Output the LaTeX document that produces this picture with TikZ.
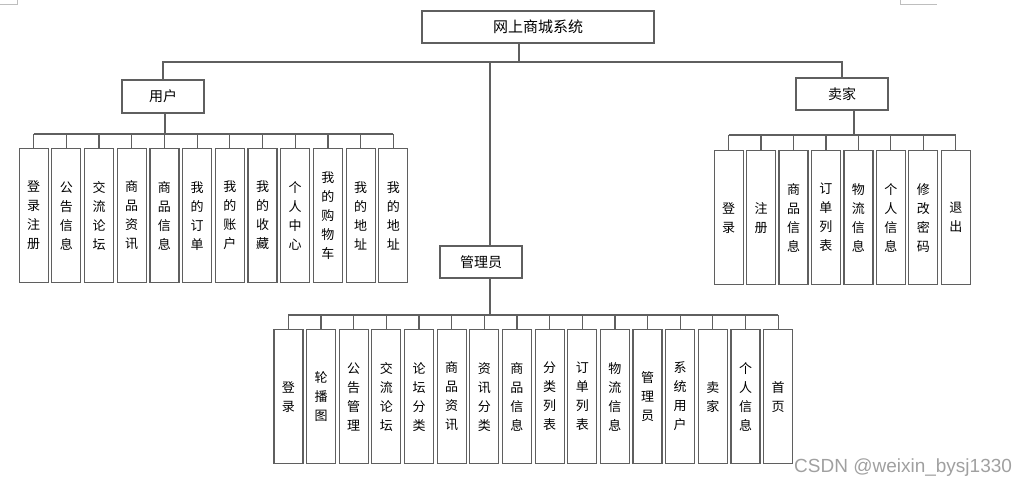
\documentclass[tikz,border=0pt]{standalone}
\usepackage{fontspec}
\newfontfamily\cjk{Noto Sans CJK SC}
\newfontfamily\wmfont{Liberation Sans}
\definecolor{linec}{RGB}{95,95,95}
\definecolor{markc}{RGB}{190,190,190}
\definecolor{wmc}{RGB}{160,160,160}
\begin{document}
\begin{tikzpicture}[x=1pt,y=-1pt,
  ln/.style={draw=linec, line width=1.2pt},
  box/.style={draw=linec, line width=1.2pt, fill=white, inner sep=0pt, font=\cjk\fontsize{14}{16}\selectfont},
  vbox/.style={box, anchor=north west, minimum width=29pt, minimum height=134pt, align=center, font=\cjk\fontsize{13}{19}\selectfont}]
\useasboundingbox (0,0) rectangle (1027,488);
% page corner marks
\draw[markc, line width=0.8pt] (0,4) -- (17,4) -- (17,0);
\draw[markc, line width=0.8pt] (900,0) -- (900,4) -- (937,4);
% top levels
\node[box, minimum width=232pt, minimum height=32pt, font=\cjk\fontsize{15}{17}\selectfont] (root) at (538,27) {网上商城系统};
\node[box, minimum width=82pt, minimum height=33pt] (user) at (163,96.5) {用户};
\node[box, minimum width=92pt, minimum height=32pt] (seller) at (842,94) {卖家};
\node[box, minimum width=82pt, minimum height=32pt] (admin) at (481,262) {管理员};
\coordinate (j0) at (519,62);
\coordinate (ja) at (490,62);
\draw[ln] (root.south -| j0) -- (j0);
\draw[ln] (user.north) |- (j0) -| (seller.north);
\draw[ln] (ja) -- (ja |- admin.north);
% user group
\coordinate (ubus) at (165,134);
\draw[ln] (ubus |- user.south) -- (ubus);
\foreach \t [count=\i from 0] in {{登\\录\\注\\册},{公\\告\\信\\息},{交\\流\\论\\坛},{商\\品\\资\\讯},{商\\品\\信\\息},{我\\的\\订\\单},{我\\的\\账\\户},{我\\的\\收\\藏},{个\\人\\中\\心},{我\\的\\购\\物\\车},{我\\的\\地\\址},{我\\的\\地\\址}} {
  \node[vbox] (u\i) at ({18.5+32.7*\i},148) {\t};
  \draw[ln] (u\i.north) -- (u\i.north |- ubus);
}
\draw[ln] (u0.north |- ubus) -- (u11.north |- ubus);
% seller group
\coordinate (sbus) at (854,135);
\draw[ln] (sbus |- seller.south) -- (sbus);
\foreach \t [count=\i from 0] in {{登\\录},{注\\册},{商\\品\\信\\息},{订\\单\\列\\表},{物\\流\\信\\息},{个\\人\\信\\息},{修\\改\\密\\码},{退\\出}} {
  \node[vbox] (s\i) at ({713.5+32.45*\i},150) {\t};
  \draw[ln] (s\i.north) -- (s\i.north |- sbus);
}
\draw[ln] (s0.north |- sbus) -- (s7.north |- sbus);
% admin group
\coordinate (abus) at (490,315);
\draw[ln] (abus |- admin.south) -- (abus);
\foreach \t [count=\i from 0] in {{登\\录},{轮\\播\\图},{公\\告\\管\\理},{交\\流\\论\\坛},{论\\坛\\分\\类},{商\\品\\资\\讯},{资\\讯\\分\\类},{商\\品\\信\\息},{分\\类\\列\\表},{订\\单\\列\\表},{物\\流\\信\\息},{管\\理\\员},{系\\统\\用\\户},{卖\\家},{个\\人\\信\\息},{首\\页}} {
  \node[vbox] (a\i) at ({273.3+32.65*\i},329) {\t};
  \draw[ln] (a\i.north) -- (a\i.north |- abus);
}
\draw[ln] (a0.north |- abus) -- (a15.north |- abus);
% watermark
\node[anchor=west, inner sep=0pt, text=wmc, font=\wmfont\fontsize{19}{21}\selectfont] (wm) at (794,468) {CSDN @weixin\_bysj1330};
\end{tikzpicture}
\end{document}
